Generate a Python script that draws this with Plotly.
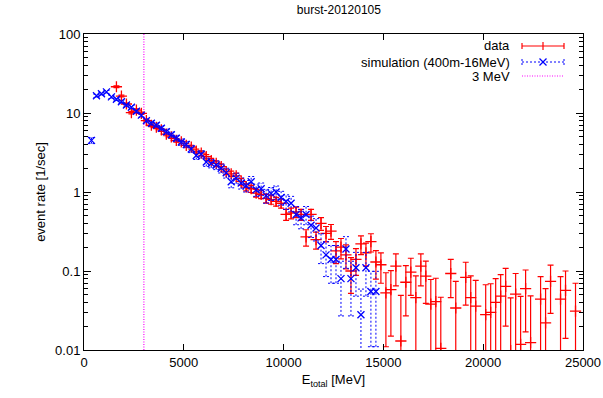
import plotly.graph_objects as go

# ---------------- data ----------------
data_E = [1625, 1875, 2125, 2375, 2625, 2875, 3125, 3375, 3625, 3875,
          4125, 4375, 4625, 4875, 5125, 5375, 5625, 5875, 6125, 6375,
          6625, 6875, 7125, 7375, 7625, 7875, 8125, 8375, 8625, 8875,
          9125, 9375, 9625, 9875, 10125, 10375, 10625, 10875, 11125, 11375,
          11625, 11875, 12125, 12375, 12625, 12875, 13125, 13375, 13625, 13875,
          14125, 14375, 14625, 14875, 15125, 15375, 15625, 15875, 16125, 16375,
          16625, 16875, 17125, 17375, 17625, 17875, 18375, 18625, 19125, 19375,
          19625, 20125, 20375, 20625, 20875, 21125, 21375, 21625, 21875, 22125,
          22375, 22875, 23125, 23375, 23875, 24125, 24625]
data_rate = [21.5, 16.4, 13.0, 10.1, 10.9, 9.9, 8.0, 7.0, 6.6, 6.1,
             5.4, 5.0, 4.5, 4.3, 3.9, 3.7, 3.3, 3.1, 2.8, 2.5,
             2.3, 2.1, 1.8, 1.7, 1.6, 1.35, 1.15, 1.1, 0.97, 0.93,
             0.83, 0.80, 0.76, 0.72, 0.52, 0.54, 0.56, 0.52, 0.27, 0.52,
             0.25, 0.40, 0.30, 0.32, 0.18, 0.20, 0.16, 0.10, 0.14, 0.22,
             0.17, 0.235, 0.13, 0.12, 0.053, 0.058, 0.115, 0.013, 0.072, 0.097,
             0.046, 0.115, 0.086, 0.038, 0.041, 0.0105, 0.093, 0.034, 0.083, 0.046,
             0.036, 0.028, 0.030, 0.040, 0.048, 0.064, 0.0098, 0.051, 0.0118, 0.060,
             0.0124, 0.044, 0.022, 0.074, 0.044, 0.057, 0.031]
data_err = [0.49, 0.43, 0.378, 0.334, 0.348, 0.332, 0.298, 0.279, 0.271, 0.261,
            0.246, 0.237, 0.225, 0.220, 0.209, 0.204, 0.193, 0.188, 0.178, 0.169,
            0.162, 0.155, 0.144, 0.140, 0.136, 0.126, 0.117, 0.115, 0.108, 0.107,
            0.101, 0.100, 0.097, 0.095, 0.082, 0.084, 0.085, 0.082, 0.063, 0.082,
            0.061, 0.074, 0.066, 0.068, 0.056, 0.058, 0.054, 0.048, 0.052, 0.059,
            0.055, 0.061, 0.051, 0.050, 0.042, 0.043, 0.050, 0.036, 0.045, 0.048,
            0.041, 0.050, 0.047, 0.040, 0.040, 0.036, 0.047, 0.040, 0.046, 0.041,
            0.040, 0.039, 0.039, 0.040, 0.042, 0.044, 0.036, 0.042, 0.036, 0.043,
            0.036, 0.041, 0.038, 0.045, 0.041, 0.043, 0.039]

sim_E = [375, 625, 875, 1125, 1375, 1625, 1875, 2125, 2375, 2625,
         2875, 3125, 3375, 3625, 3875, 4125, 4375, 4625, 4875, 5125,
         5375, 5625, 5875, 6125, 6375, 6625, 6875, 7125, 7375, 7625,
         7875, 8125, 8375, 8625, 8875, 9125, 9375, 9625, 9875, 10125,
         10375, 10625, 10875, 11125, 11375, 11625, 11875, 12125, 12375, 12625,
         12875, 13125, 13375, 13625, 13875, 14125, 14375, 14625]
sim_rate = [4.5, 16.5, 17.5, 18.5, 16.0, 14.9, 13.9, 12.6, 11.8, 10.5,
            9.4, 8.0, 7.4, 7.0, 6.4, 5.8, 5.3, 4.8, 4.3, 4.0,
            3.5, 2.9, 3.0, 2.4, 2.3, 2.2, 2.0, 1.75, 1.35, 1.5,
            1.3, 1.2, 1.35, 1.07, 1.1, 0.9, 0.96, 1.0, 0.85, 0.76,
            0.72, 0.52, 0.47, 0.52, 0.38, 0.35, 0.21, 0.16, 0.14, 0.14,
            0.08, 0.19, 0.08, 0.11, 0.028, 0.11, 0.055, 0.055]
sim_err = [0.40, 0.76, 0.78, 0.80, 0.75, 0.72, 0.70, 0.66, 0.64, 0.61,
           0.57, 0.53, 0.51, 0.49, 0.47, 0.45, 0.43, 0.41, 0.39, 0.37,
           0.35, 0.32, 0.32, 0.29, 0.28, 0.28, 0.26, 0.25, 0.22, 0.23,
           0.21, 0.20, 0.22, 0.19, 0.20, 0.18, 0.18, 0.19, 0.17, 0.16,
           0.16, 0.135, 0.128, 0.135, 0.115, 0.11, 0.086, 0.075, 0.070, 0.070,
           0.053, 0.082, 0.053, 0.062, 0.031, 0.062, 0.044, 0.044]

cut_E = 3000
title_text = "burst-20120105"
x_ticks = [0, 5000, 10000, 15000, 20000, 25000]
x_tick_labels = ["0", "5000", "10000", "15000", "20000", "25000"]
y_ticks = [0.01, 0.1, 1, 10, 100]
y_tick_labels = ["0.01", "0.1", "1", "10", "100"]
y_minor_ticks = [0.02, 0.03, 0.04, 0.05, 0.06, 0.07, 0.08, 0.09,
                 0.2, 0.3, 0.4, 0.5, 0.6, 0.7, 0.8, 0.9,
                 2, 3, 4, 5, 6, 7, 8, 9,
                 20, 30, 40, 50, 60, 70, 80, 90]

RED = "#ff0000"
BLUE = "#0000ff"
MAG = "#ff00ff"
FONT = "Liberation Sans, Arial, sans-serif"

fig = go.Figure()

# 3 MeV vertical line
fig.add_trace(go.Scatter(
    x=[cut_E, cut_E], y=[0.01, 100], mode="lines",
    line=dict(color=MAG, width=1.2, dash="1px,1.5px"), showlegend=False))

# data with error bars
fig.add_trace(go.Scatter(
    x=data_E, y=data_rate, mode="markers",
    marker=dict(symbol="cross-thin", size=8, line=dict(color=RED, width=1.3)),
    error_y=dict(type="data", array=data_err, visible=True, color=RED,
                 thickness=1.2, width=3),
    showlegend=False, cliponaxis=True))

# simulation dotted error bars (built from the data arrays)
cap_half = 150
ex, ey = [], []
for E, v, e in zip(sim_E, sim_rate, sim_err):
    lo = v - e if v - e > 0 else 1e-4
    hi = v + e
    ex += [E, E, None, E - cap_half, E + cap_half, None, E - cap_half, E + cap_half, None]
    ey += [lo, hi, None, lo, lo, None, hi, hi, None]
fig.add_trace(go.Scatter(
    x=ex, y=ey, mode="lines", line=dict(color=BLUE, width=1, dash="2px,2px"),
    showlegend=False, hoverinfo="skip", connectgaps=False))
fig.add_trace(go.Scatter(
    x=sim_E, y=sim_rate, mode="markers",
    marker=dict(symbol="x-thin", size=7, line=dict(color=BLUE, width=1.3)),
    showlegend=False))

# ----- manual gnuplot-style legend (paper coords) -----
def px(xpix):
    return (xpix - 84) / 499.0

def py(ypix):
    return (350 - ypix) / 316.0

rows = [("data", 46), ("simulation (400m-16MeV)", 62), ("3 MeV", 76)]
for txt, yp in rows:
    fig.add_annotation(x=px(512), y=py(yp), xref="paper", yref="paper",
                       text=txt, showarrow=False, xanchor="right", yanchor="middle",
                       font=dict(family=FONT, size=13, color="black"))
x0, x1, xm = px(522), px(564), px(543)
dx = 1.0 / 499.0
dy = 1.0 / 316.0
# data sample
y = py(46)
fig.add_shape(type="line", xref="paper", yref="paper", x0=x0, x1=x1, y0=y, y1=y,
              line=dict(color=RED, width=1.2))
for xx in (x0, x1):
    fig.add_shape(type="line", xref="paper", yref="paper", x0=xx, x1=xx,
                  y0=y - 3 * dy, y1=y + 3 * dy, line=dict(color=RED, width=1.2))
fig.add_shape(type="line", xref="paper", yref="paper", x0=xm, x1=xm,
              y0=y - 4 * dy, y1=y + 4 * dy, line=dict(color=RED, width=1.2))
# simulation sample
y = py(62)
fig.add_shape(type="line", xref="paper", yref="paper", x0=x0, x1=x1, y0=y, y1=y,
              line=dict(color=BLUE, width=1, dash="2px,2px"))
for xx in (x0, x1):
    fig.add_shape(type="line", xref="paper", yref="paper", x0=xx, x1=xx,
                  y0=y - 3 * dy, y1=y + 3 * dy, line=dict(color=BLUE, width=1, dash="2px,2px"))
fig.add_shape(type="line", xref="paper", yref="paper", x0=xm - 3.5 * dx, x1=xm + 3.5 * dx,
              y0=y - 3.5 * dy, y1=y + 3.5 * dy, line=dict(color=BLUE, width=1.3))
fig.add_shape(type="line", xref="paper", yref="paper", x0=xm - 3.5 * dx, x1=xm + 3.5 * dx,
              y0=y + 3.5 * dy, y1=y - 3.5 * dy, line=dict(color=BLUE, width=1.3))
# 3 MeV sample
y = py(76)
fig.add_shape(type="line", xref="paper", yref="paper", x0=x0, x1=x1, y0=y, y1=y,
              line=dict(color=MAG, width=1.2, dash="1px,1.5px"))

fig.update_layout(
    width=603, height=398,
    margin=dict(l=84, r=20, t=34, b=48),
    paper_bgcolor="white", plot_bgcolor="white",
    font=dict(family=FONT, size=13, color="black"),
    title=dict(text=title_text, x=0.562, xref="container", xanchor="center",
               y=0.985, yref="container", yanchor="top",
               font=dict(family=FONT, size=12, color="black")),
    showlegend=False,
)
fig.update_xaxes(
    range=[0, 25000], tickvals=x_ticks, ticktext=x_tick_labels,
    ticks="inside", ticklen=6, automargin=False,
    tickcolor="black", showline=True, linecolor="black", linewidth=1,
    mirror="ticks", showgrid=False, zeroline=False,
    title=dict(text="E<sub>total</sub> [MeV]", standoff=6,
               font=dict(family=FONT, size=13)),
    tickfont=dict(family=FONT, size=13))
fig.update_yaxes(
    type="log", range=[-2, 2], tickvals=y_ticks, ticktext=y_tick_labels,
    ticks="inside", ticklen=7, tickcolor="black", automargin=False,
    minor=dict(ticks="inside", ticklen=4, tickcolor="black",
               tickvals=y_minor_ticks, showgrid=False),
    showline=True, linecolor="black", linewidth=1, mirror="ticks",
    showgrid=False, zeroline=False,
    title=dict(text="event rate [1/sec]", standoff=6, font=dict(family=FONT, size=13)),
    tickfont=dict(family=FONT, size=13))

fig.write_html("out.html")
